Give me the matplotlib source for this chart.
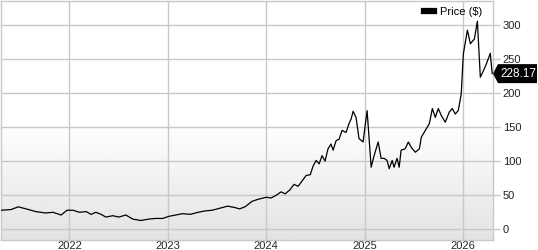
import matplotlib
matplotlib.use("Agg")
import matplotlib.pyplot as plt
import matplotlib.transforms as mtransforms
from matplotlib.patches import Polygon
import numpy as np
import pandas as pd

dates = ["2021-04-22","2021-05-29","2021-06-25","2021-07-24","2021-08-29","2021-10-04","2021-11-01",
         "2021-12-01","2021-12-23","2022-01-15","2022-02-06","2022-03-04","2022-03-22","2022-04-09",
         "2022-04-28","2022-05-16","2022-06-11","2022-07-03","2022-07-29","2022-08-24","2022-09-23",
         "2022-10-22","2022-11-17","2022-12-13","2023-01-04","2023-01-30","2023-02-24","2023-03-25",
         "2023-04-23","2023-05-19","2023-06-14","2023-07-13","2023-08-11","2023-09-06","2023-09-24",
         "2023-10-14","2023-11-09","2023-12-01","2024-01-01","2024-01-19","2024-02-07","2024-02-25",
         "2024-03-11","2024-03-29","2024-04-13","2024-04-28","2024-05-13","2024-05-28","2024-06-12",
         "2024-06-23","2024-07-04","2024-07-15","2024-07-26","2024-08-06","2024-08-17","2024-08-28",
         "2024-09-05","2024-09-16","2024-09-27","2024-10-08","2024-10-23","2024-11-03","2024-11-11",
         "2024-11-18","2024-11-29","2024-12-10","2024-12-25","2025-01-09","2025-01-24","2025-02-04",
         "2025-02-19","2025-03-02","2025-03-13","2025-03-24","2025-04-01","2025-04-12","2025-04-19",
         "2025-04-30","2025-05-08","2025-05-15","2025-05-30","2025-06-11","2025-06-22","2025-07-07",
         "2025-07-22","2025-07-29","2025-08-13","2025-08-28","2025-09-08","2025-09-19","2025-09-30",
         "2025-10-11","2025-10-26","2025-11-10","2025-11-21","2025-12-02","2025-12-13","2025-12-24",
         "2026-01-01","2026-01-16","2026-01-27","2026-02-11","2026-02-22","2026-03-05","2026-03-16",
         "2026-03-27","2026-04-11","2026-04-18"]
prices = [28, 29, 33, 30, 26, 24, 25,
          21, 28, 28, 25, 26, 22, 25,
          22, 18, 20, 18, 21, 15, 13,
          15, 16, 16, 19, 21, 23, 22,
          25, 27, 28, 31, 34, 32, 30,
          33, 41, 44, 47, 46, 50, 55,
          52, 58, 66, 63, 71, 79, 80,
          93, 101, 96, 108, 100, 118, 125,
          116, 130, 132, 145, 142, 155, 162,
          173, 164, 133, 128, 174, 91, 108,
          128, 104, 104, 101, 89, 101, 91,
          104, 91, 116, 118, 128, 120, 113,
          118, 135, 145, 155, 177, 164, 177,
          167, 157, 172, 177, 169, 174, 198,
          257, 292, 272, 279, 305, 223, 232,
          242, 258, 228.17]
yticks = [0, 50, 100, 150, 200, 250, 300]
xtick_years = ["2022", "2023", "2024", "2025", "2026"]
series_name = "Price ($)"
last_label = "228.17"

plt.rcParams['font.family'] = ['Liberation Sans', 'DejaVu Sans']

W, H = 538, 250
ax_l, ax_b, ax_w, ax_h = 1, 10, 492, 239
x = pd.to_datetime(dates)
fig = plt.figure(figsize=(W / 100, H / 100), dpi=100)
ax = fig.add_axes([ax_l / W, ax_b / H, ax_w / W, ax_h / H])

# gradient background
grad = np.linspace(0, 1, 256).reshape(-1, 1)
vals = 0.89 + 0.11 * np.clip(grad * 2.0, 0, 1)
ax.imshow(np.repeat(vals, 2, axis=1), cmap='gray', vmin=0, vmax=1, aspect='auto',
          extent=[0, 1, 1, 0], transform=ax.transAxes, zorder=0, origin='upper')

ax.plot(x, prices, color='black', lw=0.9, zorder=3, label=series_name)

ylo, yhi = -15.6, 334.6
ax.set_xlim(pd.Timestamp("2021-04-22"), pd.Timestamp("2026-04-21"))
ax.set_ylim(ylo, yhi)

ax.set_xticks(pd.to_datetime([y + "-01-01" for y in xtick_years]))
ax.set_xticklabels(xtick_years)
ax.set_yticks(yticks)
ax.set_yticklabels([str(v) for v in yticks])
ax.yaxis.tick_right()
ax.tick_params(axis='x', length=0, pad=1, labelsize=8, colors='#222222')
ax.tick_params(axis='y', length=5, width=1, color='#c8c8c8', pad=2, labelsize=8, labelcolor='#222222')
ax.grid(True, color='#c8c8c8', lw=1)
ax.set_axisbelow(True)
for s in ax.spines.values():
    s.set_color('#c8c8c8')
    s.set_linewidth(1)

leg = ax.legend(loc='upper right', frameon=False, fontsize=8, handlelength=0.9,
                handletextpad=0.6, borderaxespad=0.1, bbox_to_anchor=(0.99, 1.0))
for h in leg.legend_handles:
    h.set_linewidth(4.5)

# last-price flag
trans = mtransforms.blended_transform_factory(ax.transAxes, ax.transData)
p = prices[-1]
dy = 9.5 * (yhi - ylo) / ax_h
x1 = 1 + 5 / ax_w
xr = 1 + 44 / ax_w
flag = Polygon([[1.0, p], [x1, p + dy], [xr, p + dy], [xr, p - dy], [x1, p - dy]],
               closed=True, transform=trans, fc='black', ec='none', clip_on=False, zorder=5)
ax.add_patch(flag)
ax.text((x1 + xr) / 2 + 1 / ax_w, p, last_label, transform=trans, ha='center', va='center',
        fontsize=8.5, color='white', clip_on=False, zorder=6)

fig.savefig("out.png", dpi=100)
